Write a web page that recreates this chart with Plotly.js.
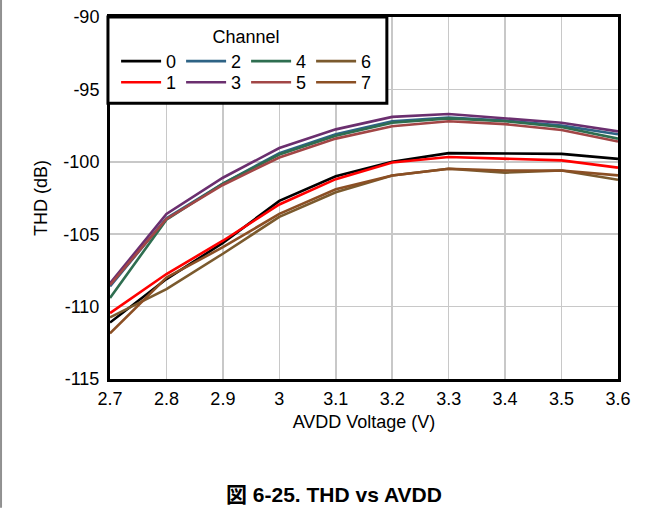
<!DOCTYPE html>
<html>
<head>
<meta charset="utf-8">
<script src="https://cdn.plot.ly/plotly-3.0.1.min.js"></script>
<style>
html,body{margin:0;padding:0;background:#fff;}
#chart{width:661px;height:508px;}
</style>
</head>
<body>
<div id="chart"></div>
<script>
// AVDD voltage (V)
var voltage = [2.7, 2.8, 2.9, 3.0, 3.1, 3.2, 3.3, 3.4, 3.5, 3.6];
// THD (dB) per channel
var ch0 = [-111.1, -108.1, -105.6, -102.7, -101.0, -100.0, -99.4, -99.45, -99.45, -99.8];
var ch1 = [-110.45, -107.75, -105.45, -102.95, -101.2, -100.05, -99.67, -99.78, -99.9, -100.4];
var ch2 = [-108.6, -103.9, -101.5, -99.4, -98.1, -97.2, -96.95, -97.15, -97.5, -98.1];
var ch3 = [-108.4, -103.6, -101.1, -99.05, -97.76, -96.9, -96.7, -97.0, -97.3, -97.9];
var ch4 = [-109.4, -104.0, -101.5, -99.5, -98.2, -97.3, -97.0, -97.2, -97.6, -98.4];
var ch5 = [-108.5, -103.95, -101.6, -99.7, -98.4, -97.55, -97.2, -97.4, -97.8, -98.6];
var ch6 = [-110.75, -108.8, -106.35, -103.8, -102.1, -100.94, -100.48, -100.75, -100.6, -101.24];
var ch7 = [-111.85, -108.0, -105.9, -103.6, -101.9, -100.94, -100.48, -100.6, -100.6, -100.94];

var channelNames = ['0', '1', '2', '3', '4', '5', '6', '7'];
var channelData = [ch0, ch1, ch2, ch3, ch4, ch5, ch6, ch7];
var channelColors = ['#000000', '#ff0000', '#2e6385', '#6b2f6f', '#2e6e50', '#a24646', '#7b5a2e', '#8b4f24'];
// legend row: even channels on the first row, odd channels on the second
var channelLegend = ['legend', 'legend2', 'legend', 'legend2', 'legend', 'legend2', 'legend', 'legend2'];

var yTickVals = [-115, -110, -105, -100, -95, -90];
var yTickText = ['-115', '-110', '-105', '-100', '-95', '-90'];
var xTickVals = [2.7, 2.8, 2.9, 3.0, 3.1, 3.2, 3.3, 3.4, 3.5, 3.6];
var xTickText = ['2.7', '2.8', '2.9', '3', '3.1', '3.2', '3.3', '3.4', '3.5', '3.6'];

var FONT = 'Liberation Sans, Arial, sans-serif';
var FS = 18;

var traces = channelData.map(function (ys, i) {
  return {
    x: voltage,
    y: ys,
    type: 'scatter',
    mode: 'lines',
    name: channelNames[i],
    legend: channelLegend[i],
    line: {color: channelColors[i], width: 2.6}
  };
});

function legendStyle(y, withTitle) {
  var l = {
    orientation: 'h',
    x: 0.012,
    xanchor: 'left',
    y: y,
    yanchor: 'top',
    bgcolor: 'rgba(0,0,0,0)',
    borderwidth: 0,
    itemwidth: 40,
    entrywidth: 10,
    entrywidthmode: 'pixels',
    font: {family: FONT, size: FS, color: '#000000'}
  };
  if (withTitle) {
    l.title = {text: 'Channel', side: 'top center', font: {family: FONT, size: FS, color: '#000000'}};
  }
  return l;
}

var layout = {
  width: 661,
  height: 508,
  margin: {l: 110, r: 43, t: 17, b: 129, pad: 0},
  paper_bgcolor: '#ffffff',
  plot_bgcolor: '#ffffff',
  font: {family: FONT, size: FS, color: '#000000'},
  showlegend: true,
  legend: legendStyle(0.993, true),
  legend2: legendStyle(0.87, false),
  xaxis: {
    range: [2.7, 3.6],
    tickvals: xTickVals,
    ticktext: xTickText,
    showgrid: true,
    gridcolor: '#c8c8c8',
    gridwidth: 1.5,
    showline: true,
    linecolor: '#000000',
    linewidth: 3,
    mirror: true,
    zeroline: false,
    ticks: '',
    ticklabelstandoff: 1,
    tickfont: {family: FONT, size: FS, color: '#000000'},
    title: {text: 'AVDD Voltage (V)', font: {family: FONT, size: FS, color: '#000000'}, standoff: 8},
    automargin: false
  },
  yaxis: {
    range: [-115, -90],
    tickvals: yTickVals,
    ticktext: yTickText,
    showgrid: true,
    gridcolor: '#c8c8c8',
    gridwidth: 1.5,
    showline: true,
    linecolor: '#000000',
    linewidth: 3,
    mirror: true,
    zeroline: false,
    ticks: '',
    ticklabelstandoff: 4,
    tickfont: {family: FONT, size: FS, color: '#000000'},
    title: {text: 'THD (dB)', font: {family: FONT, size: FS, color: '#000000'}, standoff: 12},
    automargin: false
  },
  shapes: [
    {
      type: 'rect', xref: 'paper', yref: 'paper',
      x0: -0.004, x1: 0.545, y0: 0.762, y1: 1,
      line: {color: '#000000', width: 3},
      fillcolor: '#ffffff',
      layer: 'above'
    },
    {
      type: 'line', xref: 'paper', yref: 'paper',
      x0: -0.2145, x1: -0.2145, y0: -0.356, y1: 1.047,
      line: {color: '#909090', width: 2}
    }
  ],
  annotations: [
    {
      text: '<b>図 6-25. THD vs AVDD</b>',
      xref: 'paper', yref: 'paper',
      x: 0.441, y: -0.318,
      xanchor: 'center', yanchor: 'middle',
      showarrow: false,
      font: {family: 'Liberation Sans, Noto Sans CJK JP, sans-serif', size: 21, color: '#000000'}
    }
  ]
};

Plotly.newPlot('chart', traces, layout, {displayModeBar: false, staticPlot: true});
</script>
</body>
</html>
